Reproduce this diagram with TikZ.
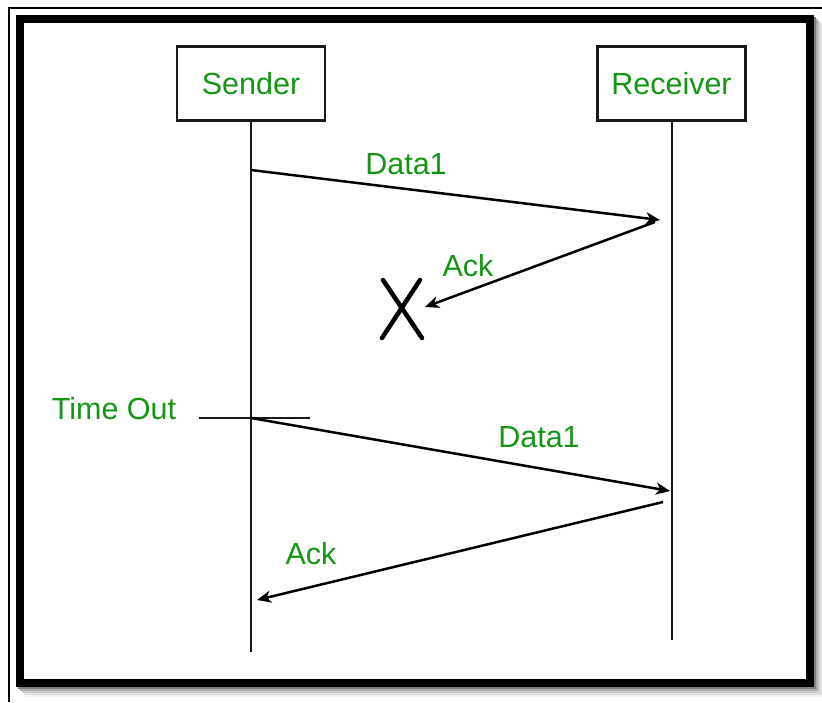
\documentclass[tikz,border=0pt]{standalone}
\usepackage{fontspec}
\setmainfont{Liberation Sans}
\usetikzlibrary{arrows.meta}
\definecolor{lblgreen}{RGB}{20,150,20}

\tikzset{
	lifeline/.style={line width=2pt, color=black!90},
	msg/.style={line width=2.5pt, -{Stealth[length=14pt, width=12pt, inset=4pt]}},
	lbl/.style={text=lblgreen, font=\fontsize{30.5}{36}\selectfont},
	party/.style={draw, line width=2.2pt, color=black!90, minimum width=148pt, minimum height=74pt, lbl},
}

\begin{document}
\begin{tikzpicture}[x=1pt, y=-1pt]
			%%%%% START %%%%%
			\useasboundingbox (0, 0) rectangle (822, 702);
			\fill[white] (0, 0) rectangle (822, 702);
			
			\draw[line width=1.5pt] (9, 702) -- (9, 8) -- (822, 8);
			
			\foreach \d/\c in {10/6, 8/12, 6/20, 4/32, 2/50}
				\draw[line width=8pt, color=black!\c] (20+\d, 19+\d) rectangle (810+\d, 683+\d);
			\fill[white] (24, 23) rectangle (806, 679);
			\draw[line width=8pt] (20, 19) rectangle (810, 683);
			
			\node[party] (sender) at (251, 83.5) {Sender};
			\node[party] (receiver) at (671.5, 83.5) {Receiver};
			
			\coordinate (sEnd) at (251, 652);
			\coordinate (rEnd) at (671.5, 640);
			\draw[lifeline] (sender.south) -- (sEnd);
			\draw[lifeline] (receiver.south) -- (rEnd);
			
			\coordinate (s1) at (251, 170);
			\coordinate (r1) at (660, 220);
			\coordinate (r1b) at (655, 222);
			\coordinate (lost) at (425, 307);
			\coordinate (s2) at (251, 418);
			\coordinate (r2) at (670, 491);
			\coordinate (r2b) at (663, 502);
			\coordinate (s3) at (257, 600);
			\coordinate (toL) at (199, 418);
			\coordinate (toR) at (310, 418);
			
			\draw[msg] (s1) -- (r1);
			\draw[msg] (r1b) -- (lost);
			\draw[line width=4.5pt, line cap=round] (383, 280) -- (422, 338);
			\draw[line width=4.5pt, line cap=round] (420, 280) -- (382, 338);
			
			\draw[lifeline] (toL) -- (toR);
			\draw[msg] (s2) -- (r2);
			\draw[msg] (r2b) -- (s3);
			
			\node[lbl] (data1a) at (406, 164) {Data1};
			\node[lbl] (ack1) at (468, 266) {Ack};
			\node[lbl] (timeout) at (114, 409) {Time Out};
			\node[lbl] (data1b) at (539, 437) {Data1};
			\node[lbl] (ack2) at (311, 554) {Ack};
			%%%%% END %%%%%
\end{tikzpicture}
\end{document}
